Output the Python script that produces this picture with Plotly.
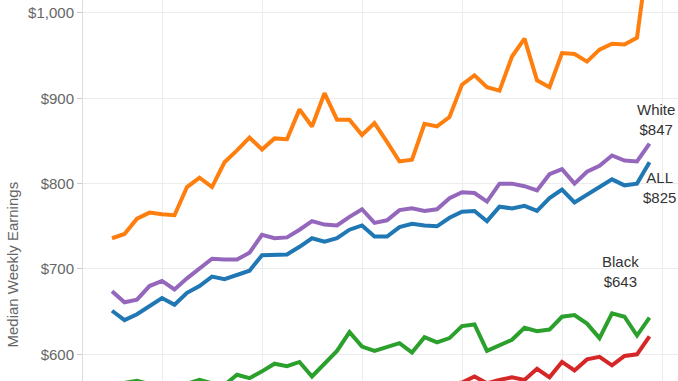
import plotly.graph_objects as go

quarters = list(range(44))

asian = [736, 741, 759, 766, 764, 763, 796, 807, 796, 825, 839, 854, 840, 853, 852, 887,
         867, 906, 875, 875, 857, 871, 849, 826, 828, 870, 867, 878, 916, 927, 913, 909,
         949, 970, 921, 913, 953, 952, 943, 957, 964, 963, 971, 1080]
white = [674, 661, 664, 680, 686, 676, 689, 700, 712, 711, 711, 719, 740, 736, 737, 746,
         756, 752, 751, 761, 770, 754, 757, 769, 771, 768, 770, 783, 790, 789, 779, 800,
         800, 797, 792, 811, 817, 800, 814, 821, 833, 827, 826, 847]
all_workers = [651, 640, 647, 657, 666, 658, 672, 680, 691, 688, 693, 698, 716, 716, 717, 726,
               736, 732, 736, 746, 751, 738, 738, 749, 753, 751, 750, 760, 767, 768, 756, 773,
               771, 774, 768, 783, 793, 778, 787, 796, 805, 798, 800, 825]
black = [564, 566, 569, 565, 562, 561, 565, 570, 566, 564, 576, 572, 580, 589, 586, 591,
         574, 589, 604, 626, 609, 604, 608, 613, 602, 620, 614, 619, 633, 635, 604, 611,
         617, 631, 627, 629, 644, 646, 636, 619, 648, 644, 622, 643]
hispanic = [545, 541, 543, 548, 550, 546, 549, 552, 551, 549, 553, 555, 552, 556, 558, 555,
            559, 561, 557, 560, 562, 559, 561, 563, 560, 564, 562, 565, 567, 574, 566, 570,
            573, 570, 583, 573, 591, 581, 594, 597, 587, 598, 600, 621]

y_ticks = [600, 700, 800, 900, 1000]
y_tick_labels = ["$600", "$700", "$800", "$900", "$1,000"]
x_grid = [4, 12, 20, 28, 36, 44]

series = [
    ("Hispanic", hispanic, "#d62728"),
    ("Black", black, "#2ca02c"),
    ("ALL", all_workers, "#1f77b4"),
    ("White", white, "#9467bd"),
    ("Asian", asian, "#ff7f0e"),
]

fig = go.Figure()
for name, vals, color in series:
    fig.add_trace(go.Scatter(x=quarters, y=vals, mode="lines", name=name,
                             line=dict(color=color, width=4)))

font_family = "Arial, Liberation Sans, sans-serif"
labels = [
    ("White<br>$847", 43.52, 875.5),
    ("ALL<br>$825", 43.76, 796),
    ("Black<br>$643", 40.64, 696.5),
]
for text, ax, ay in labels:
    fig.add_annotation(x=ax, y=ay, xref="x", yref="y", text=text, showarrow=False,
                       font=dict(family=font_family, size=15, color="#333333"),
                       xanchor="center", yanchor="middle", align="center")

fig.add_annotation(x=(12 - 83) / (678 - 83), y=1 - 264.5 / 381, xref="paper", yref="paper",
                   text="Median Weekly Earnings", showarrow=False, textangle=-90,
                   xanchor="center", yanchor="middle",
                   font=dict(family=font_family, size=15, color="#666666"))

fig.update_layout(
    width=678, height=381,
    margin=dict(l=83, r=0, t=0, b=0),
    paper_bgcolor="white", plot_bgcolor="white",
    showlegend=False,
    font=dict(family=font_family),
)
fig.update_xaxes(range=[-2.32, 45.28], tickvals=x_grid, showticklabels=False,
                 showgrid=True, gridcolor="#ececec", gridwidth=1, zeroline=False,
                 ticks="", showline=False)
fig.update_yaxes(range=[568.7, 1015.2], tickvals=y_ticks, ticktext=y_tick_labels,
                 showgrid=True, gridcolor="#ececec", gridwidth=1, zeroline=False,
                 ticks="outside", ticklen=5, tickcolor="#cccccc",
                 showline=True, linecolor="#dddddd", linewidth=1,
                 tickfont=dict(family=font_family, size=15, color="#666666"))

fig.write_html("out.html", config={"displayModeBar": False},
               post_script="document.body.style.margin='0';document.body.style.overflow='hidden';")
